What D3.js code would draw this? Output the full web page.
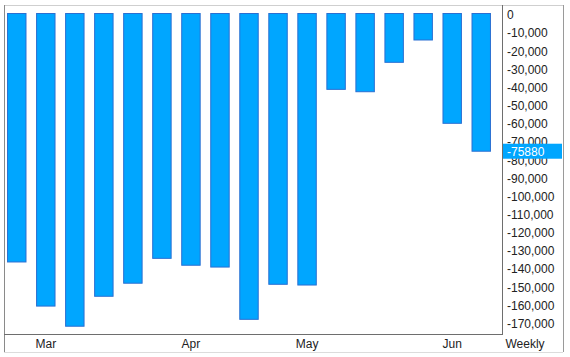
<!DOCTYPE html>
<html>
<head>
<meta charset="utf-8">
<script src="https://cdn.jsdelivr.net/npm/d3@7"></script>
<style>
  html, body { margin: 0; padding: 0; background: #fff; }
  svg { display: block; }
  text { font-family: "Liberation Sans", Arial, sans-serif; }
</style>
</head>
<body>
<svg id="chart" width="570" height="357"></svg>
<script>
// ---- data ----
const weeks = ["2013-02-22","2013-03-01","2013-03-08","2013-03-15","2013-03-22","2013-03-29",
  "2013-04-05","2013-04-12","2013-04-19","2013-04-26","2013-05-03","2013-05-10","2013-05-17",
  "2013-05-24","2013-05-31","2013-06-07","2013-06-14"];
const values = [-136900, -161200, -172300, -155800, -148600, -134900, -138700, -139700,
  -168500, -149200, -149600, -41800, -43100, -26900, -14600, -60500, -75880];
const yTicks = [0, -10000, -20000, -30000, -40000, -50000, -60000, -70000, -80000, -90000,
  -100000, -110000, -120000, -130000, -140000, -150000, -160000, -170000];
const periodLabel = "Weekly";
const lastValue = -75880;

// ---- layout ----
const svg = d3.select("#chart");
const parse = d3.timeParse("%Y-%m-%d");
const dates = weeks.map(parse);

const x = d3.scaleBand()
  .domain(weeks)
  .range([2.25, 495.75])
  .paddingInner(0.33)
  .paddingOuter(0.165);

const y = d3.scaleLinear()
  .domain([-170000, 0])
  .range([322.05, 13.5]);

const locale = d3.formatLocale({decimal: ".", thousands: ",", grouping: [3], currency: ["$", ""], minus: "-"});
const fmt = locale.format(",");

// frame
svg.append("line").attr("x1", 4).attr("x2", 563).attr("y1", 5.5).attr("y2", 5.5).attr("stroke", "#cfcfcf");
svg.append("line").attr("x1", 4).attr("x2", 563).attr("y1", 352.5).attr("y2", 352.5).attr("stroke", "#dcdcdc");
svg.append("line").attr("x1", 4.5).attr("x2", 4.5).attr("y1", 5).attr("y2", 352).attr("stroke", "#8a8a8a");
svg.append("line").attr("x1", 563.5).attr("x2", 563.5).attr("y1", 5).attr("y2", 352).attr("stroke", "#9a9a9a");
svg.append("line").attr("x1", 502.5).attr("x2", 502.5).attr("y1", 5).attr("y2", 334).attr("stroke", "#6e6e6e");
svg.append("line").attr("x1", 4).attr("x2", 503).attr("y1", 334.5).attr("y2", 334.5).attr("stroke", "#6e6e6e");

// bars
svg.append("g").selectAll("rect")
  .data(values)
  .join("rect")
  .attr("x", (d, i) => x(weeks[i]) + 0.5)
  .attr("y", d => y(Math.max(0, d)))
  .attr("width", x.bandwidth() - 1)
  .attr("height", d => Math.abs(y(d) - y(0)))
  .attr("fill", "#00a6ff")
  .attr("stroke", "#2a6fd2")
  .attr("stroke-width", 1);

// y axis (right)
const yAxis = d3.axisRight(y).tickValues(yTicks).tickSize(0).tickPadding(0).tickFormat(fmt);
const gy = svg.append("g").attr("transform", "translate(507,1.5)").call(yAxis);
gy.select(".domain").remove();
gy.selectAll("text").attr("font-size", 12).attr("fill", "#222").attr("font-family", "Liberation Sans, Arial, sans-serif");

// x axis: first week of each month
const monthTicks = weeks.filter((w, i) => i > 0 && dates[i].getMonth() !== dates[i - 1].getMonth());
const xAxis = d3.axisBottom(x).tickValues(monthTicks).tickSize(0).tickPadding(0)
  .tickFormat(w => d3.timeFormat("%b")(parse(w)));
const gx = svg.append("g").attr("transform", "translate(0,339)").call(xAxis);
gx.select(".domain").remove();
gx.selectAll("text").attr("font-size", 12).attr("fill", "#222").attr("font-family", "Liberation Sans, Arial, sans-serif");

svg.append("text").attr("x", 525).attr("y", 348).attr("text-anchor", "middle")
  .attr("font-size", 12).attr("fill", "#222").text(periodLabel);

// last value highlight
const ly = y(lastValue);
svg.append("rect").attr("x", 503).attr("y", ly - 7.5).attr("width", 59).attr("height", 15)
  .attr("fill", "#00a6ff");
svg.append("text").attr("x", 507).attr("y", ly + 4.5).attr("font-size", 12).attr("fill", "#fff")
  .text(String(lastValue));
</script>
</body>
</html>
